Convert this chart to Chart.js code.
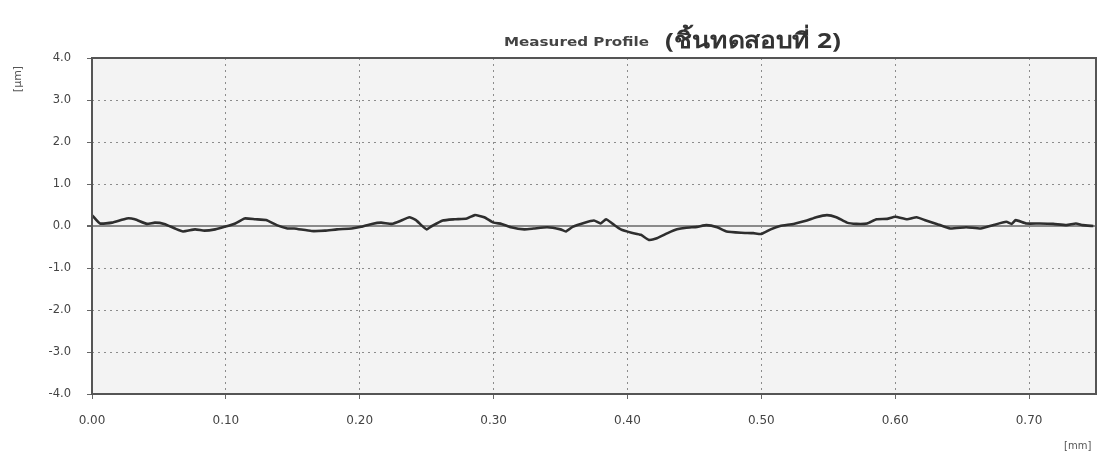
<!DOCTYPE html>
<html>
<head>
<meta charset="utf-8">
<script src="https://cdn.jsdelivr.net/npm/chart.js@4.4.1/dist/chart.umd.min.js"></script>
<style>
  html, body { margin: 0; padding: 0; background: #fff; }
</style>
</head>
<body>
<canvas id="grafico" width="1097" height="459"></canvas>
<script>
// ====== DATA ======
const posicaoMm = [0.000, 0.006, 0.015, 0.026, 0.032, 0.041, 0.047, 0.054, 0.062, 0.068, 0.077, 0.084, 0.092, 0.099,
  0.107, 0.114, 0.122, 0.130, 0.138, 0.146, 0.151, 0.164, 0.174, 0.183, 0.194, 0.201, 0.209, 0.216, 0.224, 0.231,
  0.237, 0.242, 0.246, 0.250, 0.254, 0.262, 0.271, 0.280, 0.286, 0.293, 0.300, 0.306, 0.313, 0.323, 0.330, 0.340,
  0.350, 0.354, 0.359, 0.368, 0.375, 0.380, 0.384, 0.389, 0.395, 0.403, 0.410, 0.416, 0.422, 0.430, 0.437, 0.444,
  0.452, 0.459, 0.467, 0.474, 0.485, 0.494, 0.500, 0.507, 0.514, 0.524, 0.534, 0.541, 0.549, 0.556, 0.564, 0.571,
  0.579, 0.586, 0.594, 0.600, 0.609, 0.616, 0.623, 0.631, 0.641, 0.653, 0.664, 0.673, 0.683, 0.687, 0.690, 0.698,
  0.708, 0.718, 0.728, 0.735, 0.740, 0.748];
const perfilUm = [0.26, 0.06, 0.08, 0.18, 0.16, 0.05, 0.08, 0.05, -0.06, -0.13, -0.08, -0.11, -0.08, -0.02,
  0.06, 0.18, 0.16, 0.14, 0.02, -0.06, -0.06, -0.12, -0.11, -0.08, -0.06, -0.02, 0.05, 0.08, 0.05, 0.13,
  0.21, 0.14, 0.02, -0.08, 0.00, 0.13, 0.16, 0.18, 0.26, 0.21, 0.08, 0.05, -0.03, -0.08, -0.06, -0.03,
  -0.08, -0.13, -0.02, 0.08, 0.13, 0.06, 0.16, 0.05, -0.08, -0.16, -0.21, -0.33, -0.29, -0.17, -0.08, -0.04,
  -0.02, 0.02, -0.03, -0.13, -0.16, -0.17, -0.19, -0.08, 0.00, 0.05, 0.13, 0.21, 0.26, 0.21, 0.08, 0.05,
  0.06, 0.16, 0.17, 0.22, 0.16, 0.21, 0.13, 0.05, -0.06, -0.03, -0.06, 0.02, 0.10, 0.05, 0.14, 0.06,
  0.06, 0.05, 0.02, 0.06, 0.02, 0.00];
const ticksX = [0, 0.1, 0.2, 0.3, 0.4, 0.5, 0.6, 0.7];
const ticksY = [4, 3, 2, 1, 0, -1, -2, -3, -4];
const tituloA = "Measured Profile";
const tituloB = "(ชิ้นทดสอบที่ 2)";
const unidadeX = "[mm]";
const unidadeY = "[µm]";

const pontos = posicaoMm.map((x, i) => ({ x, y: perfilUm[i] }));

// texto esticado para caber numa largura
function textoLargura(ctx, txt, x, y, largura) {
  const w = ctx.measureText(txt).width;
  ctx.save();
  ctx.translate(x, y);
  ctx.scale(largura / w, 1);
  ctx.fillText(txt, 0, 0);
  ctx.restore();
}

// ====== PLUGIN: fundo, moldura, titulo, unidades ======
const moldura = {
  id: "moldura",
  beforeDraw(chart) {
    const { ctx, chartArea: a } = chart;
    ctx.save();
    ctx.fillStyle = "#f3f3f3";
    ctx.fillRect(a.left, a.top, a.right - a.left, a.bottom - a.top);
    ctx.restore();
  },
  afterDraw(chart) {
    const { ctx, chartArea: a } = chart;
    ctx.save();
    ctx.strokeStyle = "#555";
    ctx.lineWidth = 2;
    ctx.strokeRect(a.left, a.top, a.right - a.left, a.bottom - a.top);

    // titulo
    ctx.textBaseline = "alphabetic";
    ctx.fillStyle = "#444";
    ctx.font = "bold 12px 'DejaVu Sans'";
    textoLargura(ctx, tituloA, 504, 46, 145);
    ctx.fillStyle = "#333";
    ctx.font = "bold 22px 'Noto Sans', 'DejaVu Sans', sans-serif";
    textoLargura(ctx, tituloB, 665, 48, 176);

    // unidades
    ctx.fillStyle = "#555";
    ctx.font = "10px 'DejaVu Sans'";
    ctx.fillText(unidadeX, 1064, 449);
    ctx.translate(21, 79);
    ctx.rotate(-Math.PI / 2);
    ctx.textAlign = "center";
    ctx.font = "11px 'DejaVu Sans'";
    ctx.fillText(unidadeY, 0, 0);
    ctx.restore();
  }
};

const ehZero = (c) => c.tick && c.tick.value === 0;

new Chart(document.getElementById("grafico"), {
  type: "line",
  data: {
    datasets: [{
      data: pontos,
      borderColor: "#2e2e2e",
      borderWidth: 2.6,
      pointRadius: 0,
      tension: 0.15,
      fill: false
    }]
  },
  options: {
    responsive: false,
    animation: false,
    devicePixelRatio: 1,
    layout: { padding: { top: 58, right: 1, left: 0, bottom: 0 } },
    plugins: { legend: { display: false }, tooltip: { enabled: false } },
    scales: {
      x: {
        type: "linear",
        min: 0,
        max: 0.75,
        afterBuildTicks: (s) => { s.ticks = ticksX.map((v) => ({ value: v })); },
        afterFit: (s) => { s.height = 65; },
        border: { display: false, dash: [2, 4] },
        grid: { color: "#8c8c8c", lineWidth: 1, tickLength: 5, tickColor: "#666" },
        ticks: {
          autoSkip: false,
          padding: 15,
          color: "#444",
          font: { family: "'DejaVu Sans'", size: 12 },
          maxRotation: 0,
          callback: (v) => v.toFixed(2)
        }
      },
      y: {
        type: "linear",
        min: -4,
        max: 4,
        afterBuildTicks: (s) => { s.ticks = ticksY.map((v) => ({ value: v })); },
        afterFit: (s) => { s.width = 92; },
        border: { display: false, dash: (c) => (ehZero(c) ? [] : [2, 4]) },
        grid: {
          color: (c) => (ehZero(c) ? "#8a8a8a" : "#8c8c8c"),
          lineWidth: (c) => (ehZero(c) ? 2 : 1),
          tickLength: 5,
          tickColor: "#666"
        },
        ticks: {
          autoSkip: false,
          padding: 16,
          color: "#444",
          font: { family: "'DejaVu Sans'", size: 11.5 },
          callback: (v) => v.toFixed(1)
        }
      }
    }
  },
  plugins: [moldura]
});
</script>
</body>
</html>
